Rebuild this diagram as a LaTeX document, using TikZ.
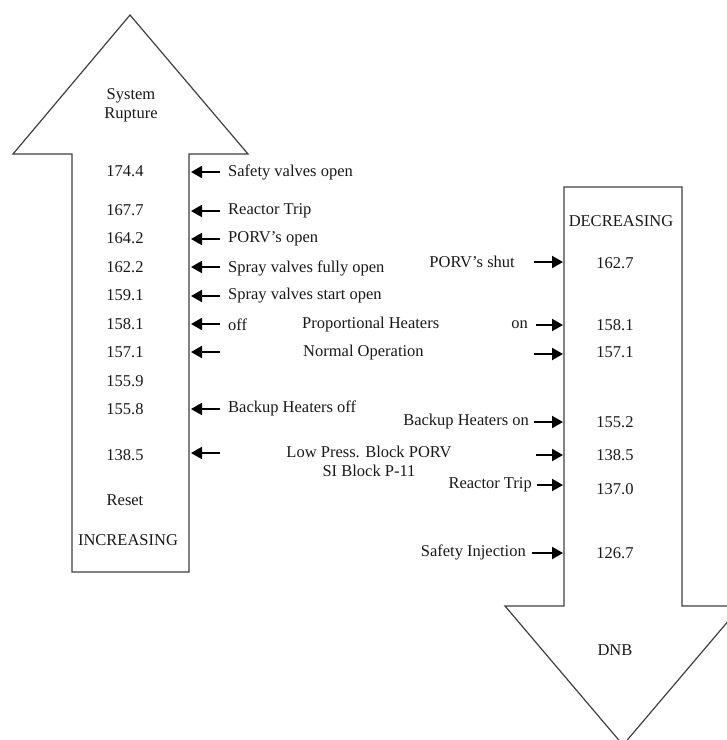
\documentclass[tikz,border=0pt]{standalone}
\usepackage{fontspec}
\setmainfont{Liberation Serif}
\usetikzlibrary{arrows.meta}
\begin{document}
\begin{tikzpicture}[x=1pt,y={(0,-1pt)},
  txt/.style={font=\fontsize{16.5}{18}\selectfont, text=black!90, inner sep=0pt},
  lbl/.style={txt, anchor=west},
  rlbl/.style={txt, anchor=east},
  big/.style={draw=black!75, line width=1.2pt, fill=white, line join=miter},
  ptr/.style={line width=2pt, -{Triangle[length=11pt,width=12pt]}}]
\useasboundingbox (0,0) rectangle (727,740);
\clip (0,0) rectangle (727,740);
% big arrows
\draw[big] (72,572) -- (72,154) -- (13,154) -- (130,15) -- (248,154) -- (189,154) -- (189,572) -- cycle;
\draw[big] (564,187) -- (682,187) -- (682,606) -- (741,606) -- (623,745) -- (505,606) -- (564,606) -- cycle;
% left column texts
\node[txt, align=center] (sr) at (131,105) {System\\[1pt]Rupture};
\node[txt] (n1) at (125,171) {174.4};
\node[txt] (n2) at (125,210) {167.7};
\node[txt] (n3) at (125,238) {164.2};
\node[txt] (n4) at (125,267) {162.2};
\node[txt] (n5) at (125,295) {159.1};
\node[txt] (n6) at (125,324) {158.1};
\node[txt] (n7) at (125,352) {157.1};
\node[txt] (n8) at (125,381) {155.9};
\node[txt] (n9) at (125,409) {155.8};
\node[txt] (n10) at (125,455) {138.5};
\node[txt] (rst) at (125,500) {Reset};
\node[txt] (inc) at (128,540) {INCREASING};
% left labels
\node[lbl] (l1) at (228,172) {Safety valves open};
\node[lbl] (l2) at (228,211) {Reactor Trip};
\node[lbl] (l3) at (228,239) {PORV’s open};
\node[lbl] (l4) at (228,268) {Spray valves fully open};
\node[lbl] (l5) at (228,296) {Spray valves start open};
\node[lbl] (l6) at (228,325) {off};
\node[lbl] (l9) at (228,408) {Backup Heaters off};
% middle labels
\node[lbl] (ph) at (302,325) {Proportional Heaters};
\node[lbl] (no) at (303,353) {Normal Operation};
\node[txt, align=center] (lp) at (369,461) {Low Press. Block PORV\\[1pt]SI Block P-11};
% left pointers
\foreach \y/\n in {172/a1,211/a2,239/a3,267/a4,296/a5,324/a6,352/a7,409/a9,453/a10}{
  \coordinate (s\n) at (220,\y);
  \coordinate (e\n) at (191,\y);
  \draw[ptr] (s\n) -- (e\n);
}
% right column
\node[txt] (dec) at (621,221) {DECREASING};
\node[txt] (r1) at (615,263) {162.7};
\node[txt] (r2) at (615,325) {158.1};
\node[txt] (r3) at (615,352) {157.1};
\node[txt] (r4) at (615,422) {155.2};
\node[txt] (r5) at (615,455) {138.5};
\node[txt] (r6) at (615,489) {137.0};
\node[txt] (r7) at (615,553) {126.7};
\node[txt] (dnb) at (615,650) {DNB};
% right labels
\node[rlbl] (q1) at (515,262) {PORV’s shut};
\node[rlbl] (q2) at (528,325) {on};
\node[rlbl] (q4) at (529,422) {Backup Heaters on};
\node[rlbl] (q6) at (532,485) {Reactor Trip};
\node[rlbl] (q7) at (526,552) {Safety Injection};
% right pointers
\foreach \y/\xs/\n in {262/534/b1,325/536/b2,354/534/b3,422/534/b4,455/536/b5,485/537/b6,553/532/b7}{
  \coordinate (t\n) at (\xs,\y);
  \coordinate (f\n) at (563,\y);
  \draw[ptr] (t\n) -- (f\n);
}
\end{tikzpicture}
\end{document}
